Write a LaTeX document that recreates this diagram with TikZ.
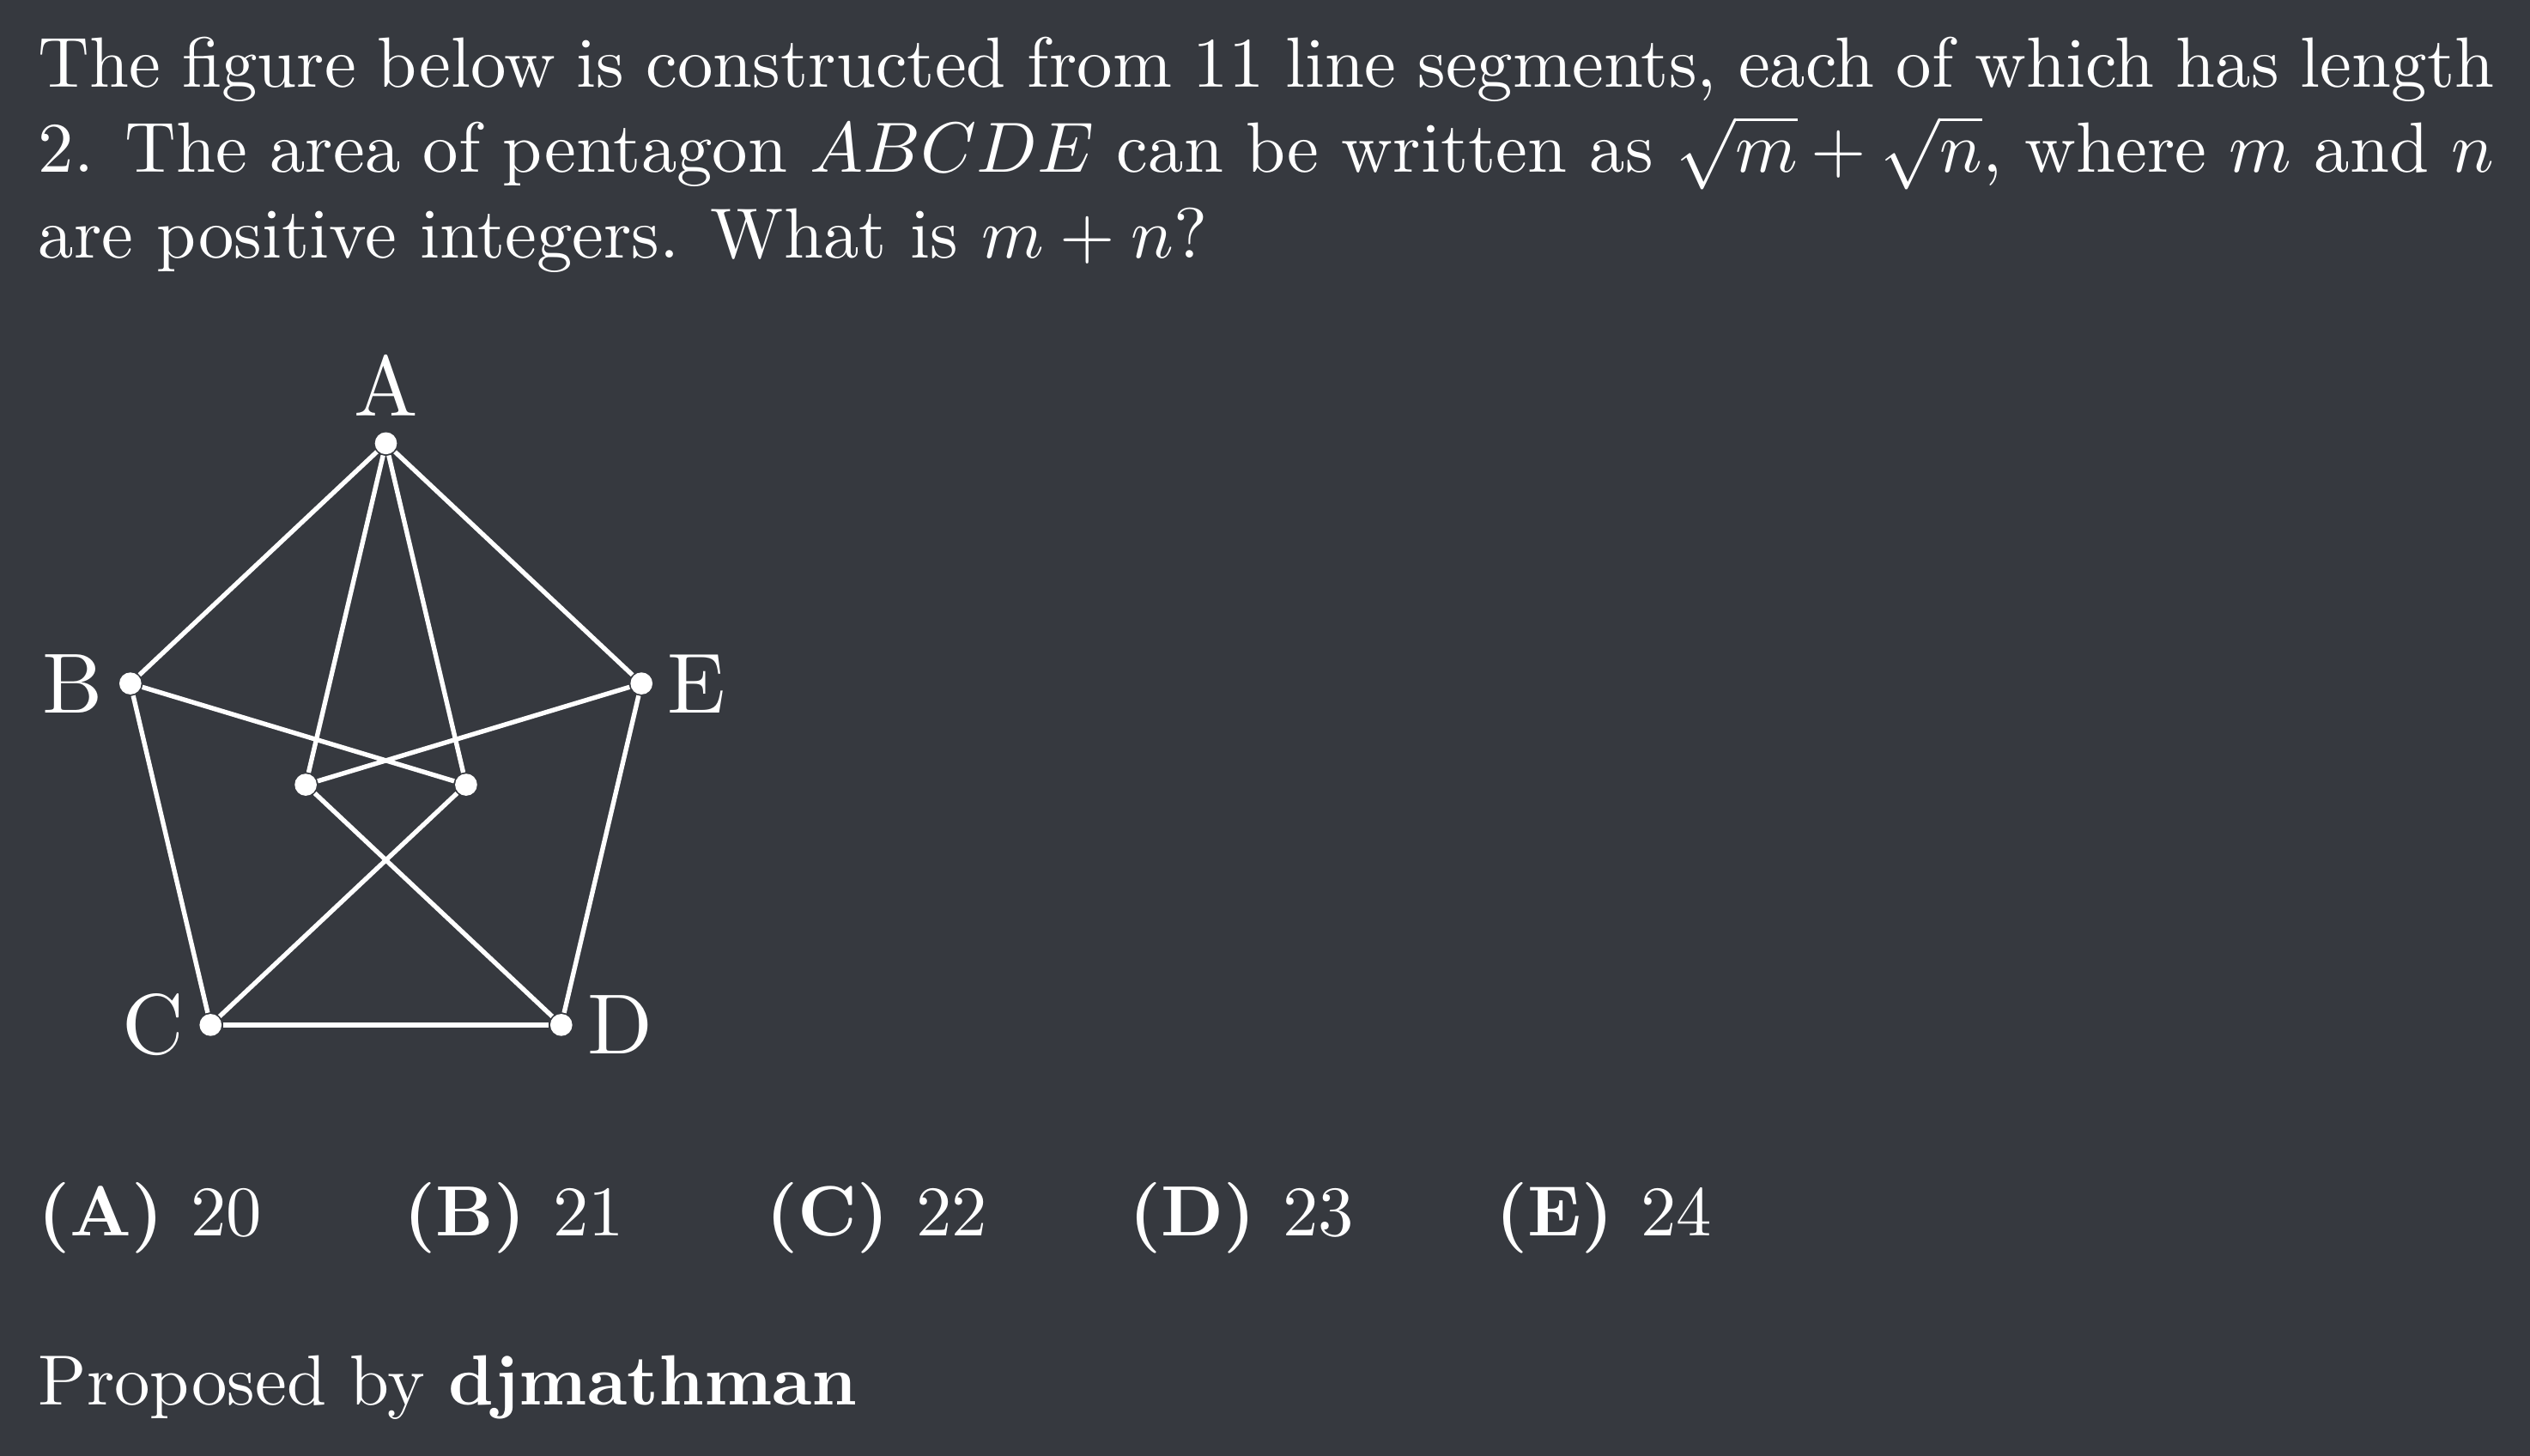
\documentclass[tikz,border=0pt]{standalone}
\usepackage{amsmath,amsfonts,amssymb}
\usepackage{tikz}
\usetikzlibrary{positioning}
\definecolor{bg_gray}{RGB}{54,57,63}
\font\labfont=cmr10 at 12pt

\begin{document}
\begin{tikzpicture}[x=1pt,y=1pt,line join=round]
    \tikzstyle{vert}=[circle, fill=white, inner sep=0pt, minimum size=3.1pt]
    \tikzstyle{lab}=[text=white, inner sep=0pt, font=\labfont]
    \tikzstyle{seg}=[draw=white, line width=0.65pt]
    \tikzstyle{txt}=[text=white, inner sep=0pt]

    \fill[bg_gray] (0,0) rectangle (355.92,204.83);
    \useasboundingbox (0,0) rectangle (355.92,204.83);

    \node[txt, anchor=north west, text width=345.5pt, align=justify] (q) at (5.2,199.8)
      {The figure below is constructed from 11 line segments, each of which has length\linebreak
       2. The area of pentagon $ABCDE$ can be written as $\sqrt{m}+\sqrt{n}$, where $m$ and $n$\linebreak
       are positive integers. What is $m+n$?};
    \node[txt, anchor=base west] (ans) at (5.2,31.0)
      {$\textbf{(A) }20\qquad\textbf{(B) }21\qquad\textbf{(C) }22\qquad\textbf{(D) }23\qquad\textbf{(E) }24$};
    \node[txt, anchor=base west] (prop) at (5.2,7.16) {Proposed by \textbf{djmathman}};

    % pentagon, side 2
    \begin{scope}[shift={(54.29,142.46)}, x=24.67pt, y=24.67pt]
    \node[vert] (A) at (0,0)          {};
    \node[vert] (B) at (-136.78:2)    {};
    \node[vert] (E) at (-43.22:2)     {};
    \node[vert] (P) at (-103.22:2)    {};
    \node[vert] (Q) at (-76.78:2)     {};
    \node[vert] (C) at (-1,-3.3168)   {};
    \node[vert] (D) at (1,-3.3168)    {};
    \end{scope}
    \node[lab, above=3.6pt of A.center] (labA) {A};
    \node[lab, left=3.6pt of B.center]  (labB) {B};
    \node[lab, left=3.5pt of C.center]  (labC) {C};
    \node[lab, right=3.5pt of D.center] (labD) {D};
    \node[lab, right=3.5pt of E.center] (labE) {E};
    \path
     (A) edge[seg] (B)
     (A) edge[seg] (E)
     (A) edge[seg] (P)
     (A) edge[seg] (Q)
     (B) edge[seg] (C)
     (B) edge[seg] (Q)
     (E) edge[seg] (D)
     (E) edge[seg] (P)
     (C) edge[seg] (D)
     (P) edge[seg] (D)
     (Q) edge[seg] (C)
     ;
\end{tikzpicture}
\end{document}
